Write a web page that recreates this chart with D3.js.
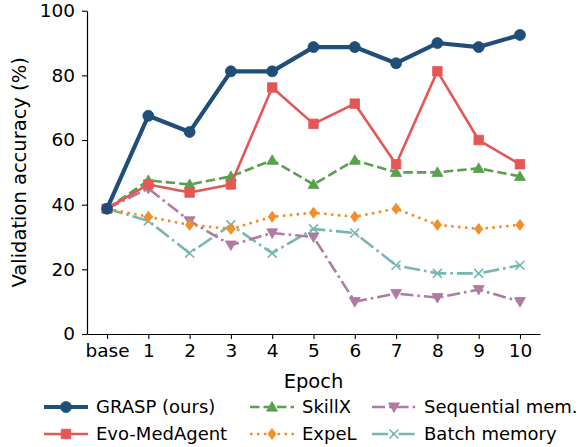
<!DOCTYPE html>
<html><head><meta charset="utf-8">
<script src="https://cdn.jsdelivr.net/npm/d3@7"></script>
<style>body{margin:0;background:#fff}svg{display:block}text{font-family:"DejaVu Sans",sans-serif;fill:#000}</style>
</head><body><svg id="c" width="581" height="447"></svg>
<script>
const categories = ["base","1","2","3","4","5","6","7","8","9","10"];
const grasp = [38.75,67.5,62.5,81.25,81.25,88.75,88.75,83.75,90,88.75,92.5];
const evo = [38.75,46.25,43.75,46.25,76.25,65,71.25,52.5,81.25,60,52.5];
const skillx = [38.75,47.5,46.25,48.75,53.75,46.25,53.75,50,50,51.25,48.75];
const expel = [38.75,36.25,33.75,32.5,36.25,37.5,36.25,38.75,33.75,32.5,33.75];
const seqmem = [38.75,45,35,27.5,31.25,30,10,12.5,11.25,13.75,10];
const batchmem = [38.75,35,25,33.75,25,32.5,31.25,21.25,18.75,18.75,21.25];
const yTicks = [0,20,40,60,80,100];
const seriesNames = ["GRASP (ours)","Evo-MedAgent","SkillX","ExpeL","Sequential mem.","Batch memory"];

const styles = [
  {color:"#1f4e79", lw:4.2, dash:null, marker:"circle", size:11},
  {color:"#e45756", lw:2.6, dash:null, marker:"square", size:9.5},
  {color:"#59a14f", lw:2.6, dash:"9.5,4", marker:"triangle", size:11},
  {color:"#f28e2b", lw:2.6, dash:"2.6,4.3", marker:"diamond", size:11},
  {color:"#b07aa1", lw:2.6, dash:"13,4,2.6,4", marker:"triangledown", size:11},
  {color:"#76b7b2", lw:2.6, dash:"16,4,2.6,4", marker:"x", size:9}
];
const data = [grasp, evo, skillx, expel, seqmem, batchmem];

const svg = d3.select("#c");
const L=87, R=540, T=10.7, B=334;
const x = d3.scaleLinear().domain([-0.485,10.485]).range([L,R]);
const y = d3.scaleLinear().domain([0,100]).range([B,T]);

function markerPath(type, s){
  const h=s/2;
  switch(type){
    case "circle": return d3.symbol(d3.symbolCircle, Math.PI*h*h)();
    case "square": return `M${-h},${-h}H${h}V${h}H${-h}Z`;
    case "triangle": return `M0,${-h}L${h},${h*0.75}L${-h},${h*0.75}Z`;
    case "triangledown": return `M0,${h}L${h},${-h*0.75}L${-h},${-h*0.75}Z`;
    case "diamond": return `M0,${-h}L${h*0.75},0L0,${h}L${-h*0.75},0Z`;
    case "x": return `M${-h},${-h}L${h},${h}M${-h},${h}L${h},${-h}`;
  }
}
function drawMarker(g, st, cx, cy){
  const p = g.append("path").attr("d", markerPath(st.marker, st.size)).attr("transform",`translate(${cx},${cy})`);
  if(st.marker==="x") p.attr("fill","none").attr("stroke",st.color).attr("stroke-width",1.6);
  else p.attr("fill",st.color).attr("stroke",st.color).attr("stroke-width",0.8);
}

// axes
const xAxis = d3.axisBottom(x).tickValues(d3.range(categories.length)).tickFormat(i=>categories[i]).tickSize(5).tickSizeOuter(0).tickPadding(5);
const gx = svg.append("g").attr("transform",`translate(0,${B})`).call(xAxis);
const yAxis = d3.axisLeft(y).tickValues(yTicks).tickSize(5).tickSizeOuter(0).tickPadding(7);
const gy = svg.append("g").attr("transform",`translate(${L},0)`).call(yAxis);
[gx,gy].forEach(g=>{
  g.selectAll("text").style("font-family","DejaVu Sans").style("font-size","18.5px").attr("fill","#000");
  g.selectAll("line").attr("stroke","#000").attr("stroke-width",1.1);
  g.select(".domain").attr("stroke","#000").attr("stroke-width",1.2);
});

svg.append("text").attr("x",(L+R)/2).attr("y",388).attr("text-anchor","middle").style("font-size","19.5px").text("Epoch");
svg.append("text").attr("transform",`translate(26,${(T+B)/2}) rotate(-90)`).attr("text-anchor","middle").style("font-size","19.5px").text("Validation accuracy (%)");

// series (reverse order so GRASP on top)
const line = d3.line().x((d,i)=>x(i)).y(d=>y(d));
for(let k=data.length-1;k>=0;k--){
  const st=styles[k], g=svg.append("g");
  g.append("path").datum(data[k]).attr("d",line).attr("fill","none").attr("stroke",st.color)
    .attr("stroke-width",st.lw).attr("stroke-dasharray",st.dash).attr("stroke-linejoin","round").attr("stroke-linecap", st.dash?"butt":"round");
  data[k].forEach((v,i)=>drawMarker(g,st,x(i),y(v)));
}

// legend
const legCols=[44,250,372], legRows=[407,434], lineLen=44;
const order=[[0,0],[0,1],[1,0],[1,1],[2,0],[2,1]];
order.forEach(([c,r],k)=>{
  const st=styles[k], g=svg.append("g");
  const x0=legCols[c], yy=legRows[r];
  g.append("line").attr("x1",x0).attr("x2",x0+lineLen).attr("y1",yy).attr("y2",yy).attr("stroke",st.color)
    .attr("stroke-width",st.lw).attr("stroke-dasharray",st.dash);
  drawMarker(g,st,x0+lineLen/2,yy);
  g.append("text").attr("x",x0+lineLen+8).attr("y",yy).attr("dy","0.35em").style("font-size","18px").text(seriesNames[k]);
});
</script></body></html>
